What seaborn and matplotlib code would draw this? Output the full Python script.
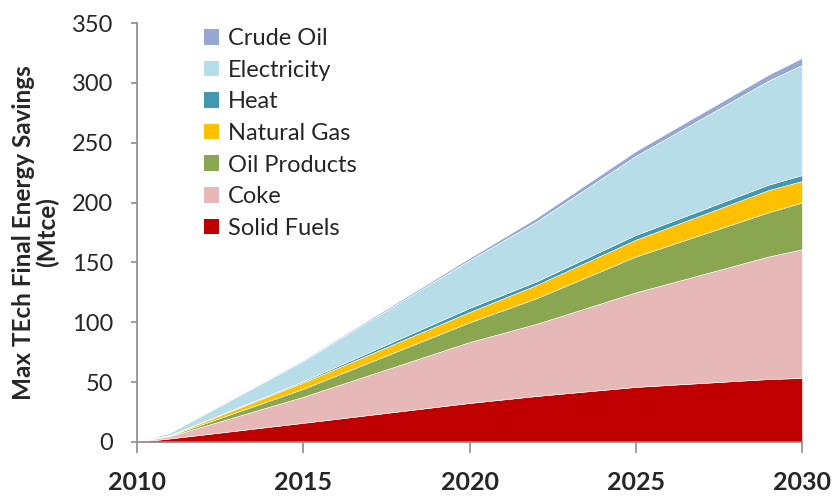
import matplotlib
matplotlib.use("Agg")
import matplotlib.pyplot as plt
from matplotlib.patches import Patch
import seaborn as sns

# Savings by fuel (Mtce), stacked from the bottom up
years = [2010, 2011, 2015, 2020, 2022, 2025, 2029, 2030]
solid_fuels  = [0, 3.0, 16.0, 32.6, 38.4, 46.0, 52.6, 53.5]
coke         = [0, 2.0, 21.8, 50.9, 60.2, 79.0, 102.4, 107.5]
oil_products = [0, 0.5, 6.7, 16.5, 21.4, 30.0, 37.0, 39.0]
natural_gas  = [0, 0.4, 5.3, 8.6, 11.0, 14.0, 18.5, 18.0]
heat         = [0, 0.1, 1.0, 3.4, 3.0, 4.0, 4.5, 5.0]
electricity  = [0, 2.0, 16.9, 40.0, 50.0, 66.0, 87.0, 92.0]
crude_oil    = [0, 0.2, 0.8, 1.7, 3.0, 4.0, 5.0, 5.8]

series_names = ["Solid Fuels", "Coke", "Oil Products", "Natural Gas",
                "Heat", "Electricity", "Crude Oil"]
series_values = [solid_fuels, coke, oil_products, natural_gas,
                 heat, electricity, crude_oil]
colors = ["#C00000", "#E6B9B8", "#8BA650", "#FFC000",
          "#4198AF", "#B7DDE8", "#95A9D0"]

x_ticks = [2010, 2015, 2020, 2025, 2030]
y_ticks = [0, 50, 100, 150, 200, 250, 300, 350]

sns.set_theme(style="white")
plt.rcParams["font.family"] = ["Lato", "DejaVu Sans"]

fig = plt.figure(figsize=(8.34, 4.97), dpi=100)
ax = fig.add_axes([0.1643, 0.1107, 0.7973, 0.8430])

ax.stackplot(years, *series_values, colors=colors,
             edgecolor="white", linewidth=0.4)

ax.set_xlim(2010, 2030)
ax.set_ylim(0, 350)
ax.set_xticks(x_ticks)
ax.set_yticks(y_ticks)
ax.set_xticklabels([str(t) for t in x_ticks], fontsize=18, fontweight="bold")
ax.set_yticklabels([str(t) for t in y_ticks], fontsize=17)

sns.despine(ax=ax)
for side in ("left", "bottom"):
    ax.spines[side].set_color("#8C8C8C")
    ax.spines[side].set_linewidth(1.2)
ax.tick_params(axis="x", direction="out", length=8, width=1.2,
               color="#8C8C8C", pad=13, bottom=True)
ax.tick_params(axis="y", direction="out", length=4, width=1.2,
               color="#8C8C8C", pad=13, left=True)

ax.set_ylabel("Max TEch Final Energy Savings\n(Mtce)", fontsize=17.5,
              fontweight="bold", labelpad=9, linespacing=1.05)

handles = [Patch(facecolor=c, edgecolor="none") for c in colors][::-1]
labels = series_names[::-1]
ax.legend(handles, labels, loc="upper left", bbox_to_anchor=(0.100, 0.988),
          frameon=False, fontsize=17, handlelength=0.64, handleheight=0.64,
          handletextpad=0.4, labelspacing=0.45, borderpad=0,
          borderaxespad=0)

fig.savefig("out.png", dpi=100)
